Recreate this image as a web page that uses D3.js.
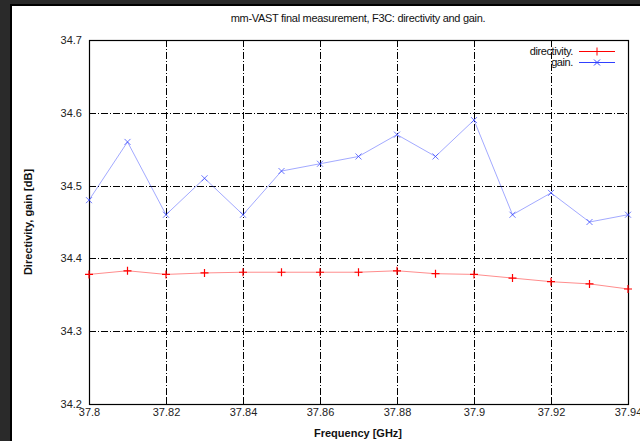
<!DOCTYPE html>
<html>
<head>
<meta charset="utf-8">
<script src="https://cdn.jsdelivr.net/npm/d3@7"></script>
<style>
  html, body { margin: 0; padding: 0; background: #2a2a2a; }
  svg { display: block; font-family: "Liberation Sans", Arial, sans-serif; }
</style>
</head>
<body>
<svg id="chart" width="640" height="441"></svg>
<script>
const freqs = [37.80, 37.81, 37.82, 37.83, 37.84, 37.85, 37.86, 37.87, 37.88, 37.89, 37.90, 37.91, 37.92, 37.93, 37.94];
const directivity = [34.378, 34.383, 34.378, 34.380, 34.381, 34.381, 34.381, 34.381, 34.383, 34.379, 34.378, 34.373, 34.368, 34.365, 34.358];
const gain = [34.48, 34.56, 34.46, 34.51, 34.46, 34.52, 34.53, 34.54, 34.57, 34.54, 34.59, 34.46, 34.49, 34.45, 34.46];
const xTicks = [37.8, 37.82, 37.84, 37.86, 37.88, 37.9, 37.92, 37.94];
const yTicks = [34.2, 34.3, 34.4, 34.5, 34.6, 34.7];

const svg = d3.select('#chart');

// dark window frame
svg.append('rect').attr('width', 640).attr('height', 441).attr('fill', '#2a2a2a');
svg.append('rect').attr('x', 10).attr('y', 4).attr('width', 630).attr('height', 437).attr('fill', '#000');
svg.append('rect').attr('x', 12).attr('y', 6).attr('width', 628).attr('height', 435).attr('fill', '#fff');

const plot = { left: 89, top: 40, right: 628, bottom: 404 };

const x = d3.scaleLinear().domain([37.8, 37.94]).range([plot.left, plot.right]);
const y = d3.scaleLinear().domain([34.2, 34.7]).range([plot.bottom, plot.top]);

// grid
const grid = svg.append('g').attr('stroke', '#000').attr('stroke-width', 1)
  .attr('stroke-dasharray', '7,2,1,2');
grid.selectAll('line.gx').data(xTicks.slice(1, -1)).join('line')
  .attr('x1', (d) => Math.round(x(d)) + 0.5).attr('x2', (d) => Math.round(x(d)) + 0.5)
  .attr('y1', plot.top).attr('y2', plot.bottom);
grid.selectAll('line.gy').data(yTicks.slice(1, -1)).join('line')
  .attr('y1', (d) => Math.round(y(d)) + 0.5).attr('y2', (d) => Math.round(y(d)) + 0.5)
  .attr('x1', plot.left).attr('x2', plot.right);

// axes (labels only, gnuplot style)
const xAxis = d3.axisBottom(x).tickValues(xTicks).tickSize(0).tickPadding(4)
  .tickFormat((d) => String(+d.toFixed(2)));
const gx = svg.append('g').attr('transform', `translate(0,${plot.bottom})`).call(xAxis);
gx.select('.domain').remove();
gx.selectAll('text').attr('font-size', 11).attr('fill', '#222').attr('font-family', '"Liberation Sans", Arial, sans-serif');

const yAxis = d3.axisLeft(y).tickValues(yTicks).tickSize(0).tickPadding(7)
  .tickFormat((d) => d.toFixed(1));
const gy = svg.append('g').attr('transform', `translate(${plot.left},0)`).call(yAxis);
gy.select('.domain').remove();
gy.selectAll('text').attr('font-size', 11).attr('fill', '#222').attr('font-family', '"Liberation Sans", Arial, sans-serif');

// small ticks inside border
const tk = svg.append('g').attr('stroke', '#000');
tk.selectAll('line.ty').data(yTicks).join('line')
  .attr('x1', plot.left).attr('x2', plot.left + 6)
  .attr('y1', (d) => Math.round(y(d)) + 0.5).attr('y2', (d) => Math.round(y(d)) + 0.5);
tk.selectAll('line.tx').data(xTicks).join('line')
  .attr('y1', plot.bottom).attr('y2', plot.bottom - 6)
  .attr('x1', (d) => Math.round(x(d)) + 0.5).attr('x2', (d) => Math.round(x(d)) + 0.5);

// border
svg.append('rect').attr('x', plot.left + 0.5).attr('y', plot.top + 0.5)
  .attr('width', plot.right - plot.left).attr('height', plot.bottom - plot.top)
  .attr('fill', 'none').attr('stroke', '#000').attr('stroke-width', 1.2);

// series
const line = d3.line().x((d) => x(d[0])).y((d) => y(d[1]));
const dirPts = freqs.map((f, i) => [f, directivity[i]]);
const gainPts = freqs.map((f, i) => [f, gain[i]]);

svg.append('path').datum(dirPts).attr('d', line).attr('fill', 'none')
  .attr('stroke', '#ff0000').attr('stroke-opacity', 0.45).attr('stroke-width', 1);
svg.append('path').datum(gainPts).attr('d', line).attr('fill', 'none')
  .attr('stroke', '#3040ff').attr('stroke-opacity', 0.45).attr('stroke-width', 1);

const plus = (s) => `M${-s},0H${s}M0,${-s}V${s}`;
const cross = (s) => `M${-s},${-s}L${s},${s}M${-s},${s}L${s},${-s}`;

svg.append('g').selectAll('path').data(dirPts).join('path')
  .attr('transform', (d) => `translate(${x(d[0])},${y(d[1])})`)
  .attr('d', plus(4)).attr('stroke', '#ff0000').attr('stroke-width', 1.2);
svg.append('g').selectAll('path').data(gainPts).join('path')
  .attr('transform', (d) => `translate(${x(d[0])},${y(d[1])})`)
  .attr('d', cross(3)).attr('stroke', '#3040ff').attr('stroke-opacity', 0.7).attr('stroke-width', 1);

// legend
const legend = [
  { label: 'directivity.', color: '#ff0000', shape: plus(4) },
  { label: 'gain.', color: '#3040ff', shape: cross(3) }
];
const lg = svg.append('g').selectAll('g').data(legend).join('g')
  .attr('transform', (d, i) => `translate(0,${51 + i * 11})`);
lg.append('text').attr('x', 573).attr('y', 4).attr('text-anchor', 'end')
  .attr('font-size', 11).attr('fill', '#111').attr('letter-spacing', -0.4).text((d) => d.label);
lg.append('line').attr('x1', 579).attr('x2', 615).attr('y1', 0.5).attr('y2', 0.5)
  .attr('stroke', (d) => d.color).attr('stroke-width', 1.2);
lg.append('path').attr('transform', 'translate(597,0.5)').attr('d', (d) => d.shape)
  .attr('stroke', (d) => d.color).attr('stroke-width', 1);

// titles
svg.append('text').attr('x', 358).attr('y', 22).attr('text-anchor', 'middle')
  .attr('font-size', 11).attr('fill', '#111').attr('letter-spacing', -0.3)
  .text('mm-VAST final measurement, F3C: directivity and gain.');
svg.append('text').attr('x', 358).attr('y', 437).attr('text-anchor', 'middle')
  .attr('font-size', 11).attr('fill', '#111').attr('font-weight', 'bold')
  .text('Frequency [GHz]');
svg.append('text').attr('transform', 'translate(32,222) rotate(-90)').attr('text-anchor', 'middle')
  .attr('font-size', 11).attr('fill', '#111').attr('font-weight', 'bold')
  .text('Directivity, gain [dB]');
</script>
</body>
</html>
